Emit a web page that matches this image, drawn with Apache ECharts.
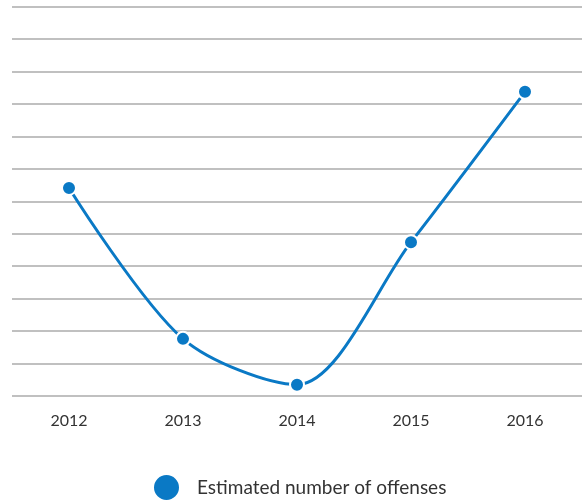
<!DOCTYPE html>
<html>
<head>
<meta charset="utf-8">
<script src="https://cdn.jsdelivr.net/npm/echarts@6/dist/echarts.min.js"></script>
<style>
  html, body { margin: 0; padding: 0; background: #fff; }
  #chart { width: 582px; height: 500px; }
</style>
</head>
<body>
<div id="chart"></div>
<script>
// Years on the horizontal axis
const years = ['2012', '2013', '2014', '2015', '2016'];
// Estimated number of offenses (relative scale, 0–12)
const offenses = [6.41, 1.76, 0.35, 4.74, 9.37];
const seriesName = 'Estimated number of offenses';

const blue = '#0a79c5';
const textColor = '#333333';

const chart = echarts.init(document.getElementById('chart'));
chart.setOption({
  animation: false,
  textStyle: { fontFamily: 'Lato' },
  grid: { left: 12, right: 0, top: 6.5, bottom: 104, containLabel: false },
  legend: {
    data: [{ name: seriesName, icon: 'circle' }],
    left: 147,
    top: 468,
    itemWidth: 27,
    itemHeight: 27,
    itemGap: 10,
    textStyle: { color: textColor, fontSize: 19, fontFamily: 'Lato', padding: [2, 0, 0, 12] }
  },
  xAxis: {
    type: 'category',
    data: years,
    boundaryGap: true,
    axisLine: { show: false },
    axisTick: { show: false },
    axisLabel: { color: textColor, fontSize: 16, margin: 17, fontFamily: 'Lato' }
  },
  yAxis: {
    type: 'value',
    min: 0,
    max: 12,
    interval: 1,
    axisLine: { show: false },
    axisTick: { show: false },
    axisLabel: { show: false },
    splitLine: { lineStyle: { color: '#ababab', width: 1.5 } }
  },
  series: [{
    name: seriesName,
    type: 'line',
    data: offenses,
    smooth: 0.3,
    symbol: 'circle',
    symbolSize: 14,
    lineStyle: { color: blue, width: 3 },
    itemStyle: { color: blue, borderColor: '#fff', borderWidth: 2 }
  }]
});
</script>
</body>
</html>
